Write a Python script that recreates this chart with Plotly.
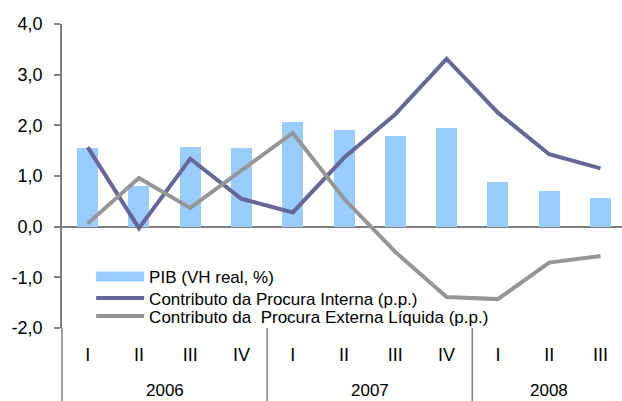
import plotly.graph_objects as go

quarters = ["I", "II", "III", "IV", "I", "II", "III", "IV", "I", "II", "III"]
years = ["2006", "2007", "2008"]
year_centers = [1.5, 5.5, 9.0]
dividers = [3.5, 7.5]
pib = [1.55, 0.80, 1.57, 1.55, 2.07, 1.91, 1.79, 1.95, 0.88, 0.70, 0.56]
interna = [1.57, -0.03, 1.34, 0.55, 0.28, 1.36, 2.22, 3.31, 2.25, 1.43, 1.15]
externa = [0.06, 0.96, 0.37, 1.10, 1.85, 0.55, -0.50, -1.39, -1.43, -0.71, -0.58]
ytick_vals = [-2, -1, 0, 1, 2, 3, 4]
ytick_text = ["-2,0", "-1,0", "0,0", "1,0", "2,0", "3,0", "4,0"]

x = list(range(len(quarters)))
FONT = "Liberation Sans, Arial, sans-serif"
GRAY = "#808080"
BAR_C = "#99CCFF"

fig = go.Figure()
fig.add_trace(go.Bar(x=x, y=pib, name="PIB (VH real, %)", marker_color=BAR_C,
                     width=0.41, marker_line_width=0, showlegend=False))
# legend entry for the bars, drawn as a wide swatch
fig.add_trace(go.Scatter(x=[None], y=[None], mode="lines", name="PIB (VH real, %)",
                         line=dict(color=BAR_C, width=11), legend="legend"))
fig.add_trace(go.Scatter(x=x, y=interna, mode="lines", name="Contributo da Procura Interna (p.p.)",
                         line=dict(color="#666699", width=4), legend="legend2"))
fig.add_trace(go.Scatter(x=x, y=externa, mode="lines",
                         name="Contributo da\u00a0 Procura Externa Líquida (p.p.)",
                         line=dict(color="#969696", width=4), legend="legend3"))

shapes = [dict(type="line", xref="paper", yref="paper", x0=0, x1=0, y0=0, y1=-0.245,
               line=dict(color=GRAY, width=1.5))]
for d in dividers:
    shapes.append(dict(type="line", xref="x", yref="paper", x0=d, x1=d, y0=0, y1=-0.245,
                       line=dict(color=GRAY, width=1.5)))

annotations = [dict(x=c, y=-0.204, xref="x", yref="paper", text=t, showarrow=False,
                    yanchor="middle", font=dict(size=17, color="black", family=FONT))
               for c, t in zip(year_centers, years)]

def leg(y):
    return dict(x=0.052, y=y, xanchor="left", yanchor="middle", bgcolor="rgba(0,0,0,0)",
                font=dict(size=17, family=FONT), itemwidth=48)

fig.update_layout(
    width=622, height=401,
    margin=dict(l=62, r=0, t=24, b=73),
    paper_bgcolor="white", plot_bgcolor="white",
    font=dict(family=FONT, color="black"),
    showlegend=True,
    legend=leg(0.168), legend2=leg(0.097), legend3=leg(0.038),
    shapes=shapes, annotations=annotations,
    bargap=0,
)
fig.update_xaxes(range=[-0.5, 10.42], tickvals=x, ticktext=quarters, showline=False,
                 showgrid=False, zeroline=False, ticks="", tickfont=dict(size=18),
                 ticklabelstandoff=14, automargin=False)
fig.update_yaxes(range=[-2, 4], tickvals=ytick_vals, ticktext=ytick_text, showline=True,
                 linecolor=GRAY, linewidth=1.5, ticks="outside", ticklen=6, tickcolor=GRAY,
                 tickwidth=1.5, showgrid=False, zeroline=True, zerolinecolor=GRAY,
                 zerolinewidth=1.5, tickfont=dict(size=18), ticklabelstandoff=8,
                 automargin=False)

fig.write_html("out.html", config={"displayModeBar": False},
               post_script="document.body.style.margin='0';")
